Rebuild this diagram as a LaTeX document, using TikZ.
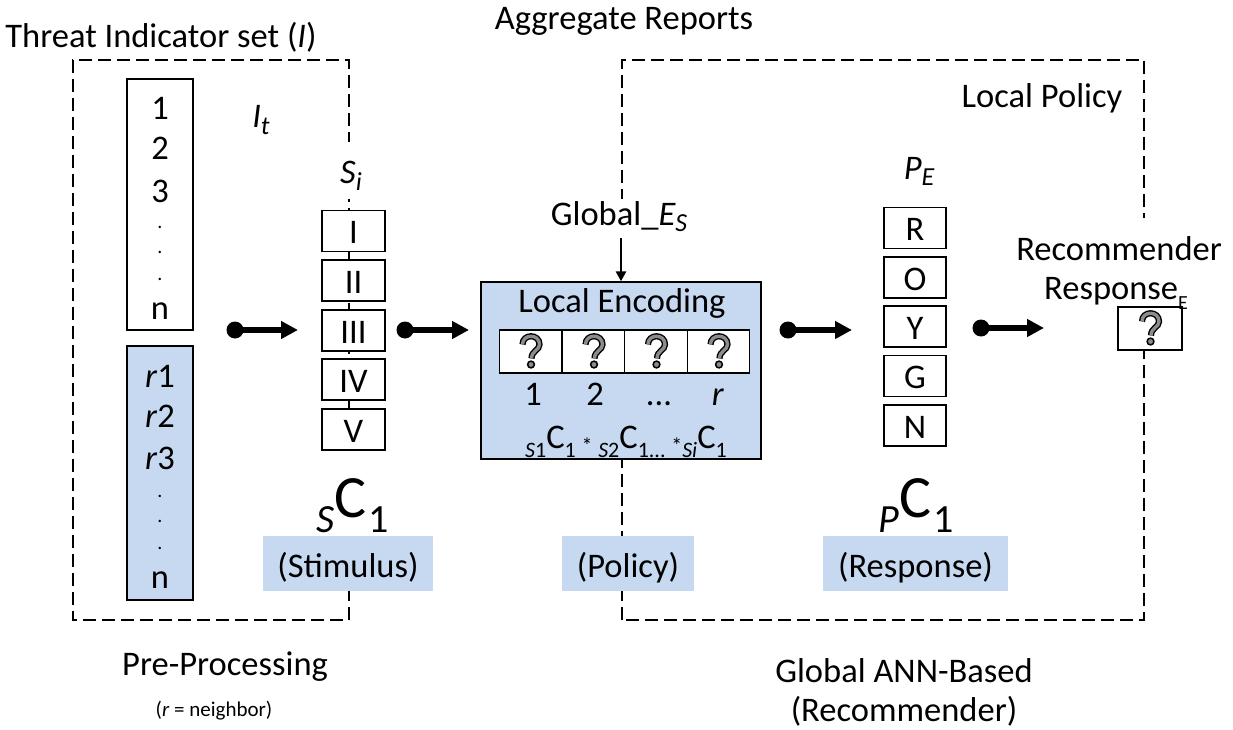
\documentclass[tikz,border=0pt]{standalone}
\usepackage{fontspec}
\setmainfont{Carlito}
\usetikzlibrary{arrows.meta}
\definecolor{paleblue}{HTML}{C6D9F0}
\definecolor{qgray}{HTML}{8C8C8C}
\newcommand{\fs}[1]{\fontsize{#1}{#1}\selectfont}
\newcommand{\lowr}[2]{\raisebox{-#1pt}{#2}}
\tikzset{
  frameline/.style={dash pattern=on 13pt off 6pt,line width=1.3pt,black},
  lbl/.style={font=\fs{34.5},inner sep=0pt,align=center,text=black},
  cellbox/.style={draw=black,line width=1.3pt,fill=white,inner sep=0pt,font=\fs{34.5},text height=25.6pt,text depth=0pt},
  tallbox/.style={draw=black,line width=1.3pt,inner sep=0pt},
  tag/.style={fill=paleblue,inner sep=0pt,font=\fs{34.5},text height=27pt,text depth=0pt},
  stack/.style={inner sep=0pt,font=\fs{34.5}},
  smalldot/.style={inner sep=0pt,font=\fs{20}},
  dot/.style={circle,fill=black,inner sep=0pt,minimum size=17pt},
  flow/.style={line width=5.5pt,-{Triangle[length=17pt,width=17pt]},shorten <=-2pt},
  thinarrow/.style={line width=2.6pt,-{Triangle[length=10pt,width=10pt]}},
  qmark/.pic={
    \draw[line width=6.2pt,black] (-8,-7) .. controls (-8,-18) and (9,-18) .. (9,-7) .. controls (9,-1) and (1,-1) .. (1,7);
    \draw[line width=3.4pt,qgray] (-8,-7) .. controls (-8,-18) and (9,-18) .. (9,-7) .. controls (9,-1) and (1,-1) .. (1,7);
    \filldraw[fill=qgray,draw=black,line width=1.5pt] (0.5,13) circle (3.4);
  }
}
\begin{document}
\begin{tikzpicture}[x=1pt,y=-1pt]
\useasboundingbox (0,0) rectangle (1233,730);
\fill[white] (0,0) rectangle (1233,730);

% dashed frames
\draw[frameline] (349,620) -- (349,60) -- (73,60) -- (73,620) -- cycle;
\draw[frameline] (622,620) -- (622,60) -- (1144,60) -- (1144,620) -- cycle;
\fill[white] (335,142) rectangle (365,199);
\fill[white] (335,451) rectangle (365,536);
\fill[white] (610,199) rectangle (634,282);
\fill[white] (1130,218) rectangle (1160,307);

% texts at the top and bottom
\node[lbl] (indicator) at (161,37) {Threat Indicator set (\textit{I})};
\node[lbl] (aggregate) at (624,21) {Aggregate Reports};
\node[lbl] (localpolicy) at (1042,98) {Local Policy};
\node[lbl] (it) at (261,120) {\textit{I\lowr{7}{\fs{26}t}}};
\node[lbl] (si) at (351,176) {\textit{S\lowr{7}{\fs{26}i}}};
\node[lbl] (pe) at (919,171) {\textit{P\lowr{6}{\fs{26}E}}};
\node[lbl] (globale) at (619,217) {Global\_\textit{E\lowr{6}{\fs{26}S}}};
\node[lbl] (pre) at (225,667) {Pre-Processing};
\node[lbl,font=\fs{21}] (neighbor) at (214,711) {(\textit{r} = neighbor)};
\node[lbl,text depth=0pt] (ann) at (904,690) {Global ANN-Based\\[5pt](Recommender)};

% left stacks
\node[tallbox,fill=white,minimum width=66pt,minimum height=251pt] (whitecol) at (160,204.5) {};
\node[tallbox,fill=paleblue,minimum width=66pt,minimum height=254pt] (bluecol) at (160,473) {};
\foreach \n/\y/\t in {a/108/1,b/148/2,c/191/3,g/311/n}
  \node[stack] (w\n) at (160,\y) {\t};
\foreach \n/\y in {d/227,e/252,f/279}
  \node[smalldot] (w\n) at (160,\y) {.};
\foreach \n/\y/\t in {a/376/\textit{r}1,b/416/\textit{r}2,c/458/\textit{r}3,g/580/n}
  \node[stack] (k\n) at (160,\y) {\t};
\foreach \n/\y in {d/496,e/521,f/548}
  \node[smalldot] (k\n) at (160,\y) {.};

% stimulus boxes
\foreach \n/\y/\t in {s1/231/I,s2/280.5/II,s3/330.5/III,s4/379.5/IV,s5/429.5/V}
  \node[cellbox,minimum width=63pt,minimum height=41pt] (\n) at (353.5,\y) {\t};

% response boxes
\foreach \n/\y/\t in {p1/228/R,p2/277.5/O,p3/326.5/Y,p4/376/G,p5/425.5/N}
  \node[cellbox,minimum width=62pt,minimum height=41pt] (\n) at (915,\y) {\t};

% local encoding
\node[tallbox,fill=paleblue,minimum width=280pt,minimum height=177pt] (enc) at (621,370.5) {};
\node[lbl] (enctitle) at (622,303) {Local Encoding};
\foreach \n/\x in {q1/530.5,q2/593.5,q3/656,q4/718.5}{
  \node[cellbox,minimum width=62.6pt,minimum height=43pt] (\n) at (\x,351.5) {};
  \pic at (\x,351.5) {qmark};
}
\node[lbl,anchor=base] (n1) at (533,405) {1};
\node[lbl,anchor=base] (n2) at (595,405) {2};
\node[lbl,anchor=base] (n3) at (659,405) {...};
\node[lbl,anchor=base] (n4) at (718,405) {\textit{r}};
\node[lbl,anchor=base] (enccomb) at (626,448) {\lowr{9}{\fs{22}\textit{S}1}C\lowr{9}{\fs{22}1}\,\lowr{5}{\fs{22}*}\,\lowr{9}{\fs{22}\textit{S}2}C\lowr{9}{\fs{22}1...}\,\lowr{5}{\fs{22}*}\lowr{9}{\fs{22}\textit{Si}}C\lowr{9}{\fs{22}1}};

% large labels
\node[lbl,font=\fs{60},anchor=base] (sc) at (353,517) {\lowr{15}{\fs{40}\textit{S}}C\kern2pt\lowr{15}{\fs{40}1}};
\node[lbl,font=\fs{60},anchor=base] (pc) at (916,517) {\lowr{15}{\fs{40}\textit{P}}C\kern2pt\lowr{15}{\fs{40}1}};

% tags
\node[tag,minimum width=170pt,minimum height=55pt] (stim) at (348,563.5) {(Stimulus)};
\node[tag,minimum width=132pt,minimum height=55pt] (pol) at (628,563.5) {(Policy)};
\node[tag,minimum width=185pt,minimum height=55pt] (resp) at (915.5,563.5) {(Response)};

% recommender response
\node[cellbox,minimum width=64pt,minimum height=43pt] (res) at (1150,328.5) {};
\pic at (1150,328.5) {qmark};
\node[lbl] (rec) at (1119,273) {Recommender\\[5pt]Response\lowr{10}{\fs{20}E}\kern6pt};

% flow arrows
\coordinate (e1) at (298,330);
\coordinate (e2) at (469,330);
\coordinate (e3) at (852,330);
\coordinate (e4) at (1044,328);
\node[dot] (d1) at (235,330) {};
\node[dot] (d2) at (405,330) {};
\node[dot] (d3) at (788,330) {};
\node[dot] (d4) at (981,328) {};
\draw[flow] (d1.center) -- (e1);
\draw[flow] (d2.center) -- (e2);
\draw[flow] (d3.center) -- (e3);
\draw[flow] (d4.center) -- (e4);
\coordinate (gtop) at (621,238);
\draw[thinarrow] (gtop) -- (gtop |- enc.north);
\end{tikzpicture}
\end{document}
